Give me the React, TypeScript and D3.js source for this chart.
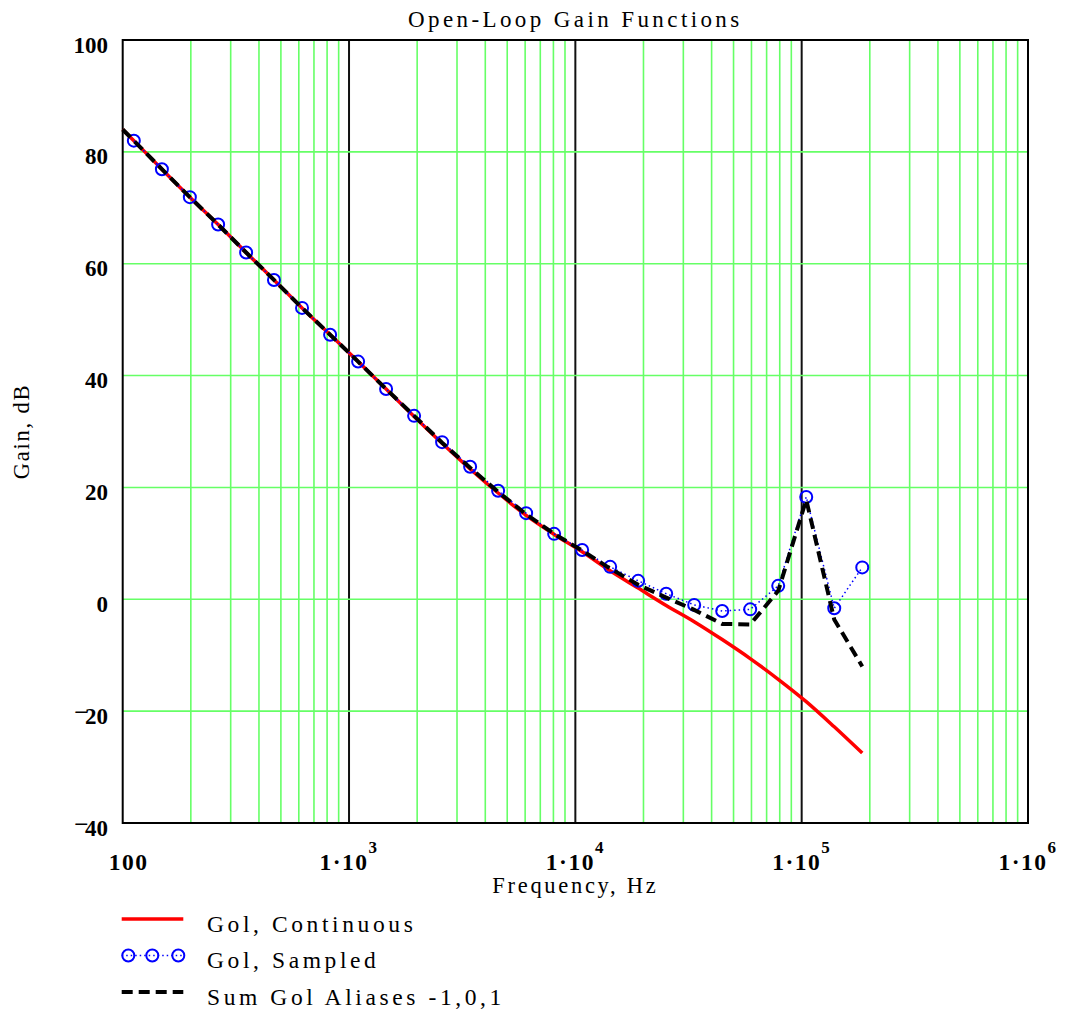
import { useEffect, useRef } from "react";
import * as d3 from "d3";

// frequencies (Hz) of the sampled points
const sampleFreq = [112, 149, 198, 264, 351, 466, 620, 825, 1097, 1458, 1939, 2578, 3428, 4558, 6061, 8060, 10717, 14251, 18949, 25197, 33504, 44551, 59240, 78771, 104743, 139277, 185197];
const gainSampled = [82.0, 76.9, 71.9, 67.0, 62.0, 57.1, 52.1, 47.3, 42.5, 37.6, 32.8, 28.1, 23.7, 19.4, 15.4, 11.7, 8.8, 5.8, 3.3, 1.0, -1.0, -2.1, -1.8, 2.4, 18.3, -1.6, 5.7];

const curveFreq = [100, 112, 149, 198, 264, 351, 466, 620, 825, 1097, 1458, 1939, 2578, 3428, 4558, 6061, 8060, 10717, 14251, 18949, 25197, 33504, 44551, 59240, 78771, 104743, 139277, 185197];
const gainContinuous = [84.0, 82.0, 76.9, 71.9, 67.0, 62.0, 57.1, 52.1, 47.3, 42.5, 37.6, 32.7, 27.9, 23.3, 19.0, 15.0, 11.6, 8.5, 5.1, 2.0, -1.1, -4.0, -7.2, -10.6, -14.3, -18.3, -22.8, -27.5];
const gainAliasSum = [84.0, 82.0, 76.9, 71.9, 67.0, 62.0, 57.1, 52.1, 47.3, 42.5, 37.6, 32.8, 28.0, 23.5, 19.2, 15.2, 11.7, 8.7, 5.5, 2.6, 0.3, -1.9, -4.4, -4.5, 1.5, 17.8, -3.6, -12.0];

const xDomain = [100, 1e6];
const yDomain = [-40, 100];
const xTickLabels = [
  { v: 100, base: "100", exp: "" },
  { v: 1e3, base: "1·10", exp: "3" },
  { v: 1e4, base: "1·10", exp: "4" },
  { v: 1e5, base: "1·10", exp: "5" },
  { v: 1e6, base: "1·10", exp: "6" },
];
const legendItems = ["Gol, Continuous", "Gol, Sampled", "Sum Gol Aliases -1,0,1"];

const FONT = "'Liberation Serif', 'Times New Roman', serif";

export default function App() {
  const ref = useRef<SVGSVGElement | null>(null);

  useEffect(() => {
    if (!ref.current) return;
    const svg = d3.select(ref.current);
    svg.selectAll("*").remove();

    const left = 122.7, right = 1028, top = 40, bottom = 823;
    const x = d3.scaleLog().domain(xDomain).range([left, right]);
    const y = d3.scaleLinear().domain(yDomain).range([bottom, top]);

    const grid = svg.append("g");
    // vertical grid: minor green, decades black
    x.ticks().forEach((t) => {
      const m = t / Math.pow(10, Math.floor(Math.log10(t) + 1e-9));
      if (t <= xDomain[0] || t >= xDomain[1]) return;
      const isDecade = Math.abs(m - 1) < 1e-6;
      grid
        .append("line")
        .attr("x1", x(t))
        .attr("x2", x(t))
        .attr("y1", top)
        .attr("y2", bottom)
        .attr("stroke", isDecade ? "#111" : "#66ff66")
        .attr("stroke-width", isDecade ? 2 : 1.6);
    });
    y.ticks(7).forEach((t) => {
      if (t <= yDomain[0] || t >= yDomain[1]) return;
      grid
        .append("line")
        .attr("x1", left)
        .attr("x2", right)
        .attr("y1", y(t))
        .attr("y2", y(t))
        .attr("stroke", "#66ff66")
        .attr("stroke-width", 1.6);
    });

    svg
      .append("rect")
      .attr("x", left)
      .attr("y", top)
      .attr("width", right - left)
      .attr("height", bottom - top)
      .attr("fill", "none")
      .attr("stroke", "#000")
      .attr("stroke-width", 2);

    // y tick labels
    y.ticks(7).forEach((t) => {
      const txt = svg
        .append("text")
        .attr("x", 108)
        .attr("y", y(t) + 12.5)
        .attr("text-anchor", "end")
        .attr("font-family", FONT)
        .attr("font-weight", "bold")
        .attr("font-size", 23);
      if (t < 0) {
        txt.append("tspan").attr("dy", -6).attr("dx", 0).text("\u2013");
        txt.append("tspan").attr("dy", 6).attr("dx", -2).text(String(-t));
      } else {
        txt.text(String(t));
      }
    });

    // x tick labels
    xTickLabels.forEach((d, i) => {
      const txt = svg
        .append("text")
        .attr("x", x(d.v) + (i === 0 ? 6 : 0))
        .attr("y", 870)
        .attr("text-anchor", "middle")
        .attr("font-family", FONT)
        .attr("font-weight", "bold")
        .attr("font-size", 23.5)
        .attr("letter-spacing", 1.5);
      txt.append("tspan").text(d.base);
      if (d.exp) txt.append("tspan").attr("dy", -17).attr("font-size", 17).text(d.exp);
    });

    const lineX = (f: number) => x(f);

    // continuous
    svg
      .append("path")
      .datum(curveFreq.map((f, i) => [f, gainContinuous[i]]))
      .attr("fill", "none")
      .attr("stroke", "#ff0000")
      .attr("stroke-width", 3.5)
      .attr(
        "d",
        d3
          .line<number[]>()
          .x((d) => lineX(d[0]))
          .y((d) => y(d[1]))
          .curve(d3.curveMonotoneX)
      );

    // sampled
    svg
      .append("path")
      .datum(sampleFreq.map((f, i) => [f, gainSampled[i]]))
      .attr("fill", "none")
      .attr("stroke", "#0000ff")
      .attr("stroke-width", 1.5)
      .attr("stroke-dasharray", "1.5,3")
      .attr(
        "d",
        d3
          .line<number[]>()
          .x((d) => lineX(d[0]))
          .y((d) => y(d[1]))
      );
    svg
      .append("g")
      .selectAll("circle")
      .data(sampleFreq.map((f, i) => [f, gainSampled[i]]))
      .join("circle")
      .attr("cx", (d) => lineX(d[0]))
      .attr("cy", (d) => y(d[1]))
      .attr("r", 6)
      .attr("fill", "none")
      .attr("stroke", "#0000ff")
      .attr("stroke-width", 2);

    // alias sum
    svg
      .append("path")
      .datum(curveFreq.map((f, i) => [f, gainAliasSum[i]]))
      .attr("fill", "none")
      .attr("stroke", "#000")
      .attr("stroke-width", 4)
      .attr("stroke-dasharray", "11,6")
      .attr(
        "d",
        d3
          .line<number[]>()
          .x((d) => lineX(d[0]))
          .y((d) => y(d[1]))
      );

    // titles
    svg
      .append("text")
      .attr("x", (left + right) / 2)
      .attr("y", 27)
      .attr("text-anchor", "middle")
      .attr("font-family", FONT)
      .attr("font-size", 23)
      .attr("letter-spacing", 3.4)
      .text("Open-Loop Gain Functions");
    svg
      .append("text")
      .attr("x", (left + right) / 2)
      .attr("y", 893)
      .attr("text-anchor", "middle")
      .attr("font-family", FONT)
      .attr("font-size", 22.5)
      .attr("letter-spacing", 2.7)
      .text("Frequency, Hz");
    svg
      .append("text")
      .attr("transform", `translate(29,${(top + bottom) / 2}) rotate(-90)`)
      .attr("text-anchor", "middle")
      .attr("font-family", FONT)
      .attr("font-size", 22.5)
      .attr("letter-spacing", 1.8)
      .text("Gain, dB");

    // legend
    const rowY = [919, 955.5, 992];
    const lg = svg.append("g");
    lg.append("line")
      .attr("x1", 121.7).attr("x2", 183.3).attr("y1", rowY[0]).attr("y2", rowY[0])
      .attr("stroke", "#ff0000").attr("stroke-width", 3.5);
    lg.append("line")
      .attr("x1", 121.7).attr("x2", 184).attr("y1", rowY[1]).attr("y2", rowY[1])
      .attr("stroke", "#0000ff").attr("stroke-width", 1.5).attr("stroke-dasharray", "1.5,3");
    [128.3, 152.3, 178.3].forEach((cx) =>
      lg.append("circle").attr("cx", cx).attr("cy", rowY[1]).attr("r", 6)
        .attr("fill", "none").attr("stroke", "#0000ff").attr("stroke-width", 2)
    );
    lg.append("line")
      .attr("x1", 121.7).attr("x2", 183.3).attr("y1", rowY[2]).attr("y2", rowY[2])
      .attr("stroke", "#000").attr("stroke-width", 4).attr("stroke-dasharray", "11,6");
    legendItems.forEach((s, i) =>
      lg.append("text")
        .attr("x", 207)
        .attr("y", rowY[i] + 12.5)
        .attr("font-family", FONT)
        .attr("font-size", 23.5)
        .attr("letter-spacing", 3.6)
        .text(s)
    );
  }, []);

  return (
    <svg
      ref={ref}
      width={1070}
      height={1015}
      style={{ position: "absolute", left: 0, top: 0, background: "#fff" }}
    />
  );
}
